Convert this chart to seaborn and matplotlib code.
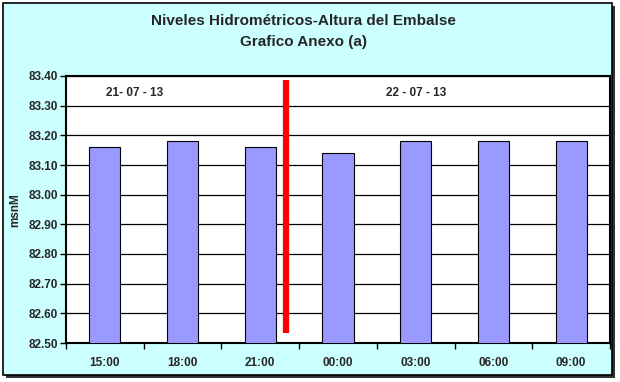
import matplotlib
matplotlib.use("Agg")
import matplotlib.pyplot as plt
import seaborn as sns
import pandas as pd
import numpy as np
from matplotlib.patches import Rectangle

horas = ["15:00", "18:00", "21:00", "00:00", "03:00", "06:00", "09:00"]
niveles = [83.16, 83.18, 83.16, 83.14, 83.18, 83.18, 83.18]
yticks = [82.50, 82.60, 82.70, 82.80, 82.90, 83.00, 83.10, 83.20, 83.30, 83.40]
fechas = ["21- 07 - 13", "22 - 07 - 13"]
corte_x = 2.33
corte_y = [82.534, 83.387]

sns.set_theme(style="white")
plt.rcParams['font.family'] = ['Liberation Sans', 'DejaVu Sans']

fig = plt.figure(figsize=(6.2, 3.82), dpi=100)
fig.patch.set_facecolor("white")
W, H = 620, 382
# shadow and frame
fig.patches.append(Rectangle((6/W, 1-378/H), 609/W, 372/H, transform=fig.transFigure,
                             facecolor="#333333", edgecolor="none", zorder=0))
fig.patches.append(Rectangle((3/W, 1-375/H), 609/W, 372/H, transform=fig.transFigure,
                             facecolor="#CCFFFF", edgecolor="black", linewidth=1.2, zorder=1))

ax = fig.add_axes([66/W, 1-343/H, 544/W, 267/H])
ax.set_zorder(2)
df = pd.DataFrame({"hora": horas, "nivel": niveles})
sns.barplot(data=df, x="hora", y="nivel", color="#9999FF", saturation=1,
            width=0.4, edgecolor="black", linewidth=0.8, ax=ax, zorder=3)
ax.set_facecolor("white")
ax.set_ylim(82.50, 83.40)
ax.set_xlim(-0.5, len(horas) - 0.5)
ax.set_yticks(yticks)
ax.set_yticklabels([f"{v:.2f}" for v in yticks], fontsize=8.5, fontweight="bold")
ax.yaxis.grid(True, color="black", linewidth=0.9)
ax.set_axisbelow(True)
for s in ax.spines.values():
    s.set_color("black")
    s.set_linewidth(1.5)
ax.tick_params(axis="y", which="major", length=4, width=1, color="black", direction="out", left=True, pad=2)
ax.set_xticks(range(len(horas)))
ax.set_xticklabels(horas, fontsize=8.5, fontweight="bold")
ax.tick_params(axis="x", which="major", length=0, pad=10)
ax.set_xticks(np.arange(-0.5, len(horas), 1), minor=True)
ax.tick_params(axis="x", which="minor", length=4, width=1, color="black", direction="out", bottom=True)
ax.set_xlabel("")
ax.set_ylabel("")
fig.text(15/W, 1-210/H, "msnM", rotation=90, ha="center", va="center",
         fontsize=8.5, fontweight="bold")

ax.plot([corte_x, corte_x], corte_y, color="#FF0000", linewidth=4.5, solid_capstyle="butt", zorder=5)
ax.text(0.38, 83.342, fechas[0], fontsize=8.5, fontweight="bold", ha="center", va="center")
ax.text(4.0, 83.342, fechas[1], fontsize=8.5, fontweight="bold", ha="center", va="center")

fig.text(303/W, 1-21/H, "Niveles Hidrométricos-Altura del Embalse", ha="center", va="center",
         fontsize=11, fontweight="bold")
fig.text(303/W, 1-42/H, "Grafico Anexo (a)", ha="center", va="center",
         fontsize=11, fontweight="bold")

fig.savefig("out.png", dpi=100, facecolor=fig.get_facecolor())
